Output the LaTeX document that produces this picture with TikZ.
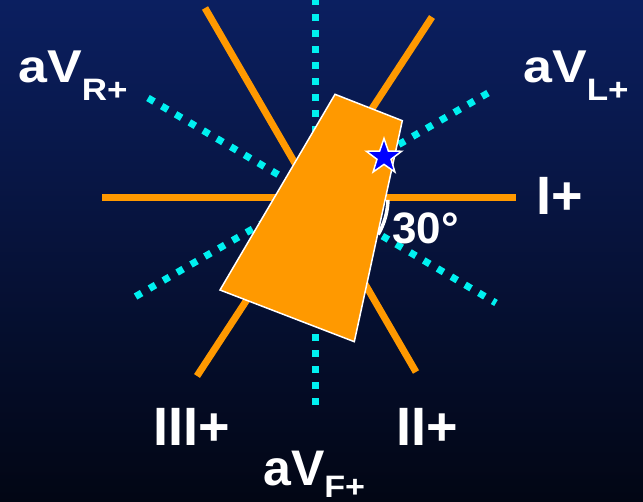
\documentclass[tikz,border=0pt]{standalone}
\usepackage{graphicx}
\usepackage{fontspec}
\setmainfont{Liberation Sans}
\usetikzlibrary{shapes.geometric,calc}
\definecolor{bgtop}{RGB}{11,31,96}
\definecolor{bgbot}{RGB}{2,6,20}
\definecolor{axorange}{RGB}{255,153,0}
\definecolor{axcyan}{RGB}{0,240,240}
\definecolor{starblue}{RGB}{0,0,255}
\tikzset{
  leadline/.style={draw=axorange, line width=7pt},
  augline/.style={draw=axcyan, line width=7pt, dash pattern=on 7pt off 9pt},
  lbl/.style={text=white, font=\bfseries, inner sep=0pt, anchor=base west},
}
\begin{document}
\begin{tikzpicture}[x=1pt,y=-1pt]
\useasboundingbox (0,0) rectangle (643,502);
\shade[top color=bgtop, bottom color=bgbot] (0,0) rectangle (643,502);
% centre and axis end points
\coordinate (O) at (315,198);
\coordinate (Ia) at (102,198);   \coordinate (Ib) at (516,198);
\coordinate (IIa) at (205,8);    \coordinate (IIb) at (416,372);
\coordinate (IIIa) at (432,17);  \coordinate (IIIb) at (197,376);
\coordinate (Fa) at (315,405);   \coordinate (Fb) at (315,0);
\coordinate (Ra) at (148,98);    \coordinate (Rb) at (496,303);
\coordinate (La) at (488,93);    \coordinate (Lb) at (133,298);
% augmented leads (dotted)
\draw[augline] (Fa) -- (Fb);
\draw[augline] (Ra) -- (Rb);
\draw[augline] (La) -- (Lb);
% limb leads
\draw[leadline] (Ia) -- (Ib);
\draw[leadline] (IIa) -- (IIb);
\draw[leadline] (IIIa) -- (IIIb);
% 30 degree arc
\draw[white, line width=3.5pt] ($(O)+(72.97,1.91)$) arc[start angle=1.5, end angle=30, radius=73];
% heart
\coordinate (h1) at (335,94.3);
\coordinate (h2) at (402.3,120.7);
\coordinate (h3) at (354.3,341.7);
\coordinate (h4) at (220,290);
\draw[white, line width=1.5pt, fill=axorange, line join=miter] (h1) -- (h2) -- (h3) -- (h4) -- cycle;
% star
\node[star, star points=5, star point ratio=2.5, minimum size=37pt, inner sep=0pt, fill=starblue, draw=white, line width=1.5pt] (st) at (384,157) {};
% labels
\node[lbl] (aVR) at (18,83) {\scalebox{1.13}[1]{\fontsize{46}{46}\selectfont aV\raisebox{-17.7pt}{\fontsize{31}{31}\selectfont R+}}};
\node[lbl] (aVL) at (523,83) {\scalebox{1.13}[1]{\fontsize{46}{46}\selectfont aV\raisebox{-17.7pt}{\fontsize{31}{31}\selectfont L+}}};
\node[lbl] (aVF) at (263,486) {\fontsize{50}{50}\selectfont aV\raisebox{-11pt}{\scalebox{1.1}[1]{\fontsize{31}{31}\selectfont F+}}};
\node[lbl] (Il) at (536,214.3) {\fontsize{54}{54}\selectfont I+};
\node[lbl] (IIl) at (396,445.7) {\fontsize{54}{54}\selectfont II+};
\node[lbl] (IIIl) at (153,445.7) {\fontsize{54}{54}\selectfont III+};
\node[lbl] (deg) at (392,243.3) {\fontsize{44}{44}\selectfont 30°};
\end{tikzpicture}
\end{document}
